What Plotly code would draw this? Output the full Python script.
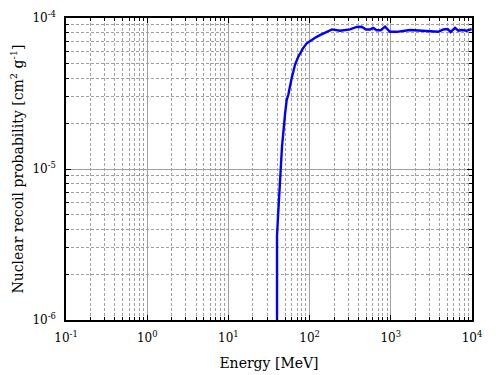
import plotly.graph_objects as go

energy = [39.7, 39.7, 40.8, 42.0, 44.1, 45.7, 48.0, 49.8, 52.2, 54.7, 60.2, 66.1, 72.0,
          82.9, 92.1, 101, 117, 134, 164, 189, 237, 273, 315, 380, 438, 495, 555, 609,
          670, 751, 849, 977, 1183, 1723, 2766, 3846, 4429, 5020, 5460, 6180, 6780,
          7460, 8600, 9910]
prob = [5e-7, 3.6e-6, 4.8e-6, 6.9e-6, 1.0e-5, 1.4e-5, 2.0e-5, 2.3e-5, 2.86e-5, 3.1e-5,
        4.0e-5, 4.9e-5, 5.5e-5, 6.3e-5, 6.8e-5, 7.05e-5, 7.4e-5, 7.7e-5, 8.1e-5, 8.4e-5,
        8.24e-5, 8.3e-5, 8.4e-5, 8.72e-5, 8.76e-5, 8.4e-5, 8.4e-5, 8.6e-5, 8.3e-5, 8.3e-5,
        8.76e-5, 8.1e-5, 8.1e-5, 8.33e-5, 8.24e-5, 8.1e-5, 8.4e-5, 8.45e-5, 8.08e-5,
        8.6e-5, 8.24e-5, 8.33e-5, 8.24e-5, 8.45e-5]

x_major = [0.1, 1, 10, 100, 1000, 10000]
x_labels = ["10<sup>-1</sup>", "10<sup>0</sup>", "10<sup>1</sup>", "10<sup>2</sup>",
            "10<sup>3</sup>", "10<sup>4</sup>"]
y_major = [1e-6, 1e-5, 1e-4]
y_labels = ["10<sup>-6</sup>", "10<sup>-5</sup>", "10<sup>-4</sup>"]

x_minor = [m * d for d in x_major[:-1] for m in range(2, 10)]
y_minor = [m * d for d in y_major[:-1] for m in range(2, 10)]

font = dict(family="DejaVu Serif", size=12, color="black")

fig = go.Figure()
fig.add_trace(go.Scatter(x=energy, y=prob, mode="lines",
                         line=dict(color="#0000ff", width=2.4), showlegend=False))

fig.update_layout(
    width=500, height=375,
    margin=dict(l=58, r=36, t=10, b=63, autoexpand=False),
    paper_bgcolor="white", plot_bgcolor="white",
    font=font,
)
fig.update_xaxes(
    type="log", range=[-1, 4], automargin=False,
    tickvals=x_major, ticktext=x_labels, ticklabelstandoff=6,
    showgrid=True, gridcolor="#a0a0a0", gridwidth=1,
    minor=dict(tickvals=x_minor, showgrid=True, gridcolor="#a0a0a0",
               griddash="3px,2px", gridwidth=1,
               ticks="inside", ticklen=3, tickcolor="black", tickwidth=1),
    showline=True, linecolor="black", linewidth=1.5, mirror="allticks",
    ticks="inside", ticklen=5, tickcolor="black", tickwidth=1,
    title=dict(text="Energy [MeV]", standoff=14),
    tickfont=font,
)
fig.update_yaxes(
    type="log", range=[-6, -4], automargin=False,
    tickvals=y_major, ticktext=y_labels, ticklabelstandoff=6,
    showgrid=True, gridcolor="#a0a0a0", gridwidth=1,
    minor=dict(tickvals=y_minor, showgrid=True, gridcolor="#a0a0a0",
               griddash="3px,2px", gridwidth=1,
               ticks="inside", ticklen=3, tickcolor="black", tickwidth=1),
    showline=True, linecolor="black", linewidth=1.5, mirror="allticks",
    ticks="inside", ticklen=5, tickcolor="black", tickwidth=1,
    title=dict(text="Nuclear recoil probability [cm<sup>2</sup> g<sup>-1</sup>]", standoff=14),
    tickfont=font,
)

fig.write_html("out.html")
